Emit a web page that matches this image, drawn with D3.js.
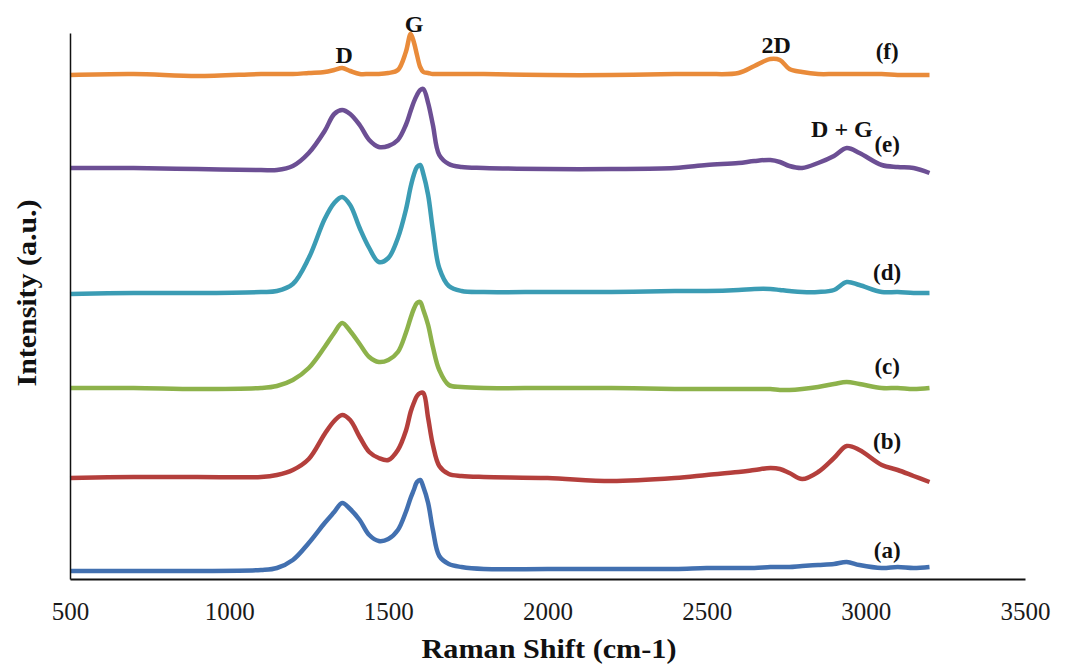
<!DOCTYPE html>
<html>
<head>
<meta charset="utf-8">
<script src="https://cdn.jsdelivr.net/npm/d3@7"></script>
<style>
  body{margin:0;background:#fff;}
  text{font-family:"Liberation Serif","Times New Roman",serif;}
</style>
</head>
<body>
<svg></svg>
<script>
// Raman spectra (a)-(f), stacked

var shift=[500,700,900,1100,1150,1200,1250,1300,1330,1355,1380,1410,1440,1470,1500,1530,1555,1570,1580,1590,1600,1610,1625,1640,1660,1690,1730,1800,2000,2200,2400,2500,2600,2650,2700,2730,2760,2800,2850,2900,2940,2980,3050,3100,3150,3200];

var specA=[8,8,8,9,11,19,36,56,67,76,70,59,44,38,40,49,67,81,89,97,99,92,76,49,23,15,12,10,10,10,10,11,11,11,12,12,12,13,14,15,17,14,11,12,11,12];
var specB=[101,102,102,102,104,109,120,145,158,164,159,142,127,121,119,129,148,167,176,183,186,186,161,134,113,105,103,102,101,98,101,104,107,109,111,110,106,100,107,121,133,129,114,109,103,97];
var specC=[191,191,190,191,193,199,211,232,246,256,248,235,222,217,219,227,246,261,270,276,277,269,254,232,209,194,192,191,191,191,190,190,190,190,190,189,189,190,192,195,197,195,191,191,190,191];
var specD=[285,286,286,287,288,295,321,360,376,382,374,351,331,317,321,341,369,392,404,412,414,405,384,349,311,293,288,287,287,287,288,288,289,290,290,289,288,287,287,289,297,294,287,287,286,286];
var specE=[411,411,410,409,409,413,426,448,465,469,465,454,439,432,433,439,454,468,477,484,489,490,476,454,424,415,412,411,410,410,411,414,416,418,419,417,413,411,416,423,431,426,414,412,411,406];
var specF=[504,505,503,505,505,505,506,507,509,511,508,505,505,505,506,509,527,545,537,524,512,507,506,505,505,505,505,505,504,504,505,505,506,513,520,519,510,507,505,505,505,505,505,504,504,504];

var seriesNames=["(a)","(b)","(c)","(d)","(e)","(f)"];
var seriesColors=["#4270b0","#b43f3c","#8db24b","#3b9cb4","#6c4f94","#e98b3a"];
var nameShift=3067;
var nameLevel=[21,130,205,299,427,520];

var peakNames=["D","G","2D","D + G"];
var peakShift=[1361,1581,2718,2925];
var peakLevel=[516,547,526,442];

var xTicks=[500,1000,1500,2000,2500,3000,3500];

var svgWidth=1071,svgHeight=665;
var plotLeft=70,plotRight=1025,plotTop=33,plotBottom=579;

var svg=d3.select("svg")
    .attr("width",svgWidth)
    .attr("height",svgHeight);

var xscale=d3.scaleLinear()
    .domain([500,3500])
    .range([plotLeft,plotRight]);

var yscale=d3.scaleLinear()
    .domain([0,546])
    .range([plotBottom,plotTop]);

var allSpec=[specA,specB,specC,specD,specE,specF];

var line=d3.line()
    .x(function(d,i){return xscale(shift[i]);})
    .y(function(d){return yscale(d);})
    .curve(d3.curveCatmullRom.alpha(0.5));

svg.selectAll("path.spec")
    .data(allSpec)
    .enter()
    .append("path")
    .attr("class","spec")
    .attr("d",line)
    .attr("fill","none")
    .attr("stroke",function(d,i){return seriesColors[i];})
    .attr("stroke-width",4.5)
    .attr("stroke-linejoin","round");

// axes
var xAxis=d3.axisBottom(xscale)
    .tickValues(xTicks)
    .tickFormat(d3.format("d"))
    .tickSize(0)
    .tickPadding(0);
var gx=svg.append("g")
    .attr("transform","translate(0,"+plotBottom+")")
    .call(xAxis);
gx.select(".domain").attr("stroke","#111").attr("stroke-width",2);
gx.selectAll("text")
    .attr("y",41)
    .attr("dy",null)
    .attr("fill","#1a1a1a")
    .style("font-size","25px");

var yAxis=d3.axisLeft(yscale).tickValues([]).tickSize(0);
svg.append("g")
    .attr("transform","translate("+plotLeft+",0)")
    .call(yAxis)
    .select(".domain").attr("stroke","#111").attr("stroke-width",1.5);

svg.append("text")
    .text("Raman Shift (cm-1)")
    .attr("x",549)
    .attr("y",658)
    .attr("text-anchor","middle")
    .attr("textLength",255)
    .attr("lengthAdjust","spacingAndGlyphs")
    .style("font-size","28px")
    .style("font-weight","bold")
    .attr("fill","#111");

svg.append("text")
    .text("Intensity (a.u.)")
    .attr("transform","translate(36,293) rotate(-90)")
    .attr("text-anchor","middle")
    .attr("textLength",187)
    .attr("lengthAdjust","spacingAndGlyphs")
    .style("font-size","28px")
    .style("font-weight","bold")
    .attr("fill","#111");

// series labels
svg.selectAll("text.name")
    .data(seriesNames)
    .enter()
    .append("text")
    .attr("class","name")
    .text(function(d){return d;})
    .attr("x",xscale(nameShift))
    .attr("y",function(d,i){return yscale(nameLevel[i]);})
    .attr("text-anchor","middle")
    .style("font-size","23px")
    .style("font-weight","bold")
    .attr("fill","#111");

// peak labels
svg.selectAll("text.peak")
    .data(peakNames)
    .enter()
    .append("text")
    .attr("class","peak")
    .text(function(d){return d;})
    .attr("x",function(d,i){return xscale(peakShift[i]);})
    .attr("y",function(d,i){return yscale(peakLevel[i]);})
    .attr("text-anchor","middle")
    .style("font-size","24px")
    .style("font-weight","bold")
    .attr("fill","#111");
</script>
</body>
</html>
